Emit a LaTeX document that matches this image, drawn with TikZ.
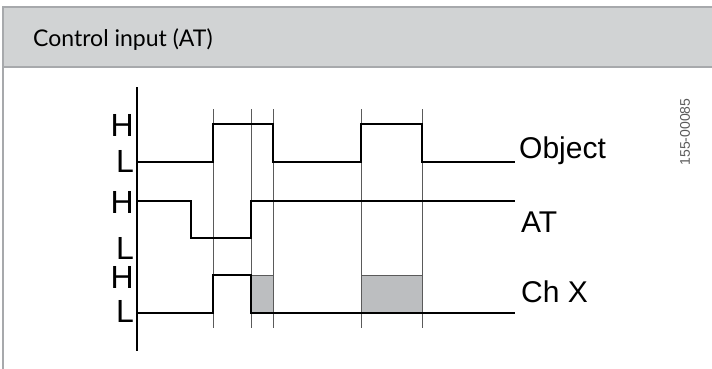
\documentclass[tikz,border=0pt]{standalone}
\usepackage{fontspec}
\setmainfont{Liberation Sans}
\newfontfamily\headfont{Lato}
\definecolor{headgray}{HTML}{D1D3D4}
\definecolor{framegray}{HTML}{A7A9AC}
\definecolor{fillgray}{HTML}{BCBEC0}
\definecolor{gridgray}{HTML}{5A5A5A}
\tikzset{
  signal/.style={line width=2pt},
  guide/.style={gridgray, line width=1pt},
  level/.style={inner sep=0pt, anchor=east, font=\fontsize{32}{36}\selectfont},
  chan/.style={inner sep=0pt, anchor=base west, font=\fontsize{30}{34}\selectfont},
}

\begin{document}
\begin{tikzpicture}[x=1pt,y=-1pt]
    \useasboundingbox (0,0) rectangle (712,369);
    % header band
    \fill[headgray] (3,7) rectangle (712,67);
    \draw[framegray, line width=1.5pt] (712,7) -- (3,7) -- (3,369);
    \draw[framegray, line width=1.5pt] (3,67) -- (712,67);
    \node (title) at (33,47) [anchor=base west, inner sep=0pt, font=\headfont\fontsize{23}{28}\selectfont] {Control input (AT)};

    % shaded windows of Ch X
    \filldraw[fill=fillgray, draw=gridgray, line width=1pt] (251,275) rectangle (273,313);
    \filldraw[fill=fillgray, draw=gridgray, line width=1pt] (361,275) rectangle (422,313);

    % time marks
    \foreach \t in {213,251,273,361,422}
        \draw[guide] (\t,109) -- (\t,328);

    \draw[line width=1.3pt] (137,87) -- (137,351);

    % signals
    \draw[signal] (137,162) -- (213,162) -- (213,124) -- (273,124) -- (273,162)
        -- (361,162) -- (361,124) -- (422,124) -- (422,162) -- (515,162);
    \draw[signal] (137,201) -- (191,201) -- (191,238) -- (251,238) -- (251,201) -- (515,201);
    \draw[signal] (137,313) -- (213,313) -- (213,275) -- (251,275) -- (251,313) -- (515,313);

\node (hObj) at (134,125) [level] {H};
\node (lObj) at (134,161.5) [level] {L};
\node (hAT) at (134,202) [level] {H};
\node (lAT) at (134,248) [level] {L};
\node (hCh) at (134,277) [level] {H};
\node (lCh) at (134,311.5) [level] {L};

\node (obj) at (519,158) [chan] {Object};
\node (at) at (521,232) [chan] {AT};
\node (chx) at (521,302) [chan] {Ch X};

\node (code) at (685,132) [rotate=90, inner sep=0pt, gridgray, font=\fontsize{14}{16}\selectfont] {155-00085};
\end{tikzpicture}
\end{document}
